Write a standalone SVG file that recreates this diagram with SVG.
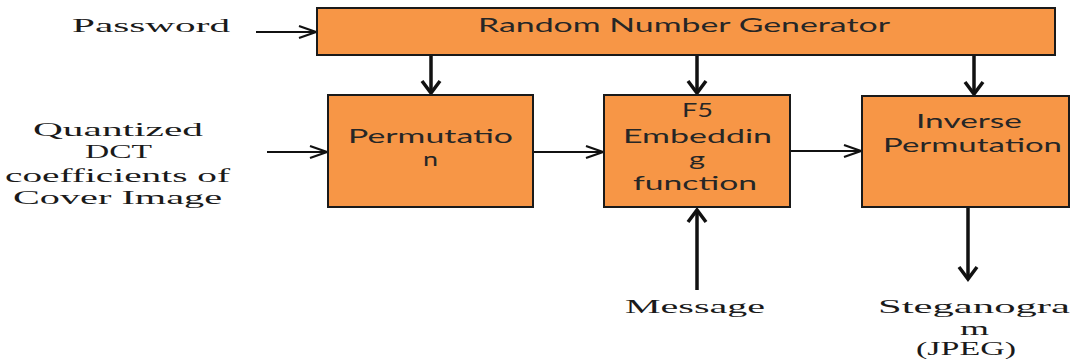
<svg xmlns="http://www.w3.org/2000/svg" width="1073" height="362" viewBox="0 0 1073 362">
  <style>
    .box { fill: #F79646; stroke: #1a1a1a; stroke-width: 2; }
    .bt { font-family: Lato, "Liberation Sans", sans-serif; font-size: 19px; fill: #262626; }
    .st { font-family: "Liberation Serif", "DejaVu Serif", serif; font-size: 18.5px; fill: #1a1a1a; }
    .h { stroke: #111; stroke-width: 2.2; fill: none; }
    .v { stroke: #111; stroke-width: 3.5; fill: none; }
  </style>
  <defs>
    <marker id="ah" markerUnits="userSpaceOnUse" viewBox="-20 -10 24 20" refX="0" refY="0" markerWidth="24" markerHeight="20" orient="auto">
      <path d="M-17,-6 L0,0 L-17,6" fill="none" stroke="#111" stroke-width="2.2"/>
    </marker>
    <marker id="av" markerUnits="userSpaceOnUse" viewBox="-16 -14 20 28" refX="0" refY="0" markerWidth="20" markerHeight="28" orient="auto">
      <path d="M-12,-9 L0,0 L-12,9" fill="none" stroke="#111" stroke-width="3.5"/>
    </marker>
  </defs>

  <g id="connectors">
    <line class="h" x1="256" y1="32" x2="316" y2="32" marker-end="url(#ah)"/>
    <line class="h" x1="267" y1="152" x2="327" y2="152" marker-end="url(#ah)"/>
    <line class="h" x1="533" y1="152" x2="603" y2="152" marker-end="url(#ah)"/>
    <line class="h" x1="790" y1="151" x2="861" y2="151" marker-end="url(#ah)"/>
    <line class="v" x1="431" y1="56" x2="431" y2="93" marker-end="url(#av)"/>
    <line class="v" x1="697" y1="56" x2="697" y2="93" marker-end="url(#av)"/>
    <line class="v" x1="974" y1="56" x2="974" y2="94" marker-end="url(#av)"/>
    <line class="v" x1="697" y1="290" x2="697" y2="210" marker-end="url(#av)"/>
    <line class="v" x1="968" y1="207" x2="968" y2="279" marker-end="url(#av)"/>
  </g>

  <g id="rng">
    <rect class="box" x="317" y="8" width="738" height="47"/>
    <text class="bt" x="478" y="32" textLength="412" lengthAdjust="spacingAndGlyphs">Random Number Generator</text>
  </g>

  <g id="permutation">
    <rect class="box" x="328" y="95" width="205" height="112"/>
    <text class="bt" x="348" y="143" textLength="165" lengthAdjust="spacingAndGlyphs">Permutatio</text>
    <text class="bt" x="423" y="166" textLength="15" lengthAdjust="spacingAndGlyphs">n</text>
  </g>

  <g id="f5">
    <rect class="box" x="604" y="95" width="186" height="112"/>
    <text class="bt" x="682" y="117" textLength="31" lengthAdjust="spacingAndGlyphs">F5</text>
    <text class="bt" x="623" y="143" textLength="149" lengthAdjust="spacingAndGlyphs">Embeddin</text>
    <text class="bt" x="689" y="166" textLength="16" lengthAdjust="spacingAndGlyphs">g</text>
    <text class="bt" x="633" y="190" textLength="124" lengthAdjust="spacingAndGlyphs">function</text>
  </g>

  <g id="inverse">
    <rect class="box" x="862" y="96" width="207" height="111"/>
    <text class="bt" x="916" y="128" textLength="106" lengthAdjust="spacingAndGlyphs">Inverse</text>
    <text class="bt" x="883" y="152" textLength="179" lengthAdjust="spacingAndGlyphs">Permutation</text>
  </g>

  <g id="password">
    <text class="st" x="72" y="32" textLength="158" lengthAdjust="spacingAndGlyphs">Password</text>
  </g>

  <g id="cover">
    <text class="st" x="33" y="136" textLength="170" lengthAdjust="spacingAndGlyphs">Quantized</text>
    <text class="st" x="85" y="158" textLength="67" lengthAdjust="spacingAndGlyphs">DCT</text>
    <text class="st" x="5" y="182" textLength="225" lengthAdjust="spacingAndGlyphs">coefficients of</text>
    <text class="st" x="13" y="204" textLength="209" lengthAdjust="spacingAndGlyphs">Cover Image</text>
  </g>

  <g id="message">
    <text class="st" x="625" y="313" textLength="140" lengthAdjust="spacingAndGlyphs">Message</text>
  </g>

  <g id="stego">
    <text class="st" x="878" y="313" textLength="192" lengthAdjust="spacingAndGlyphs">Steganogra</text>
    <text class="st" x="960" y="335" textLength="29" lengthAdjust="spacingAndGlyphs">m</text>
    <text class="st" x="916" y="355" textLength="100" lengthAdjust="spacingAndGlyphs">(JPEG)</text>
  </g>
</svg>
